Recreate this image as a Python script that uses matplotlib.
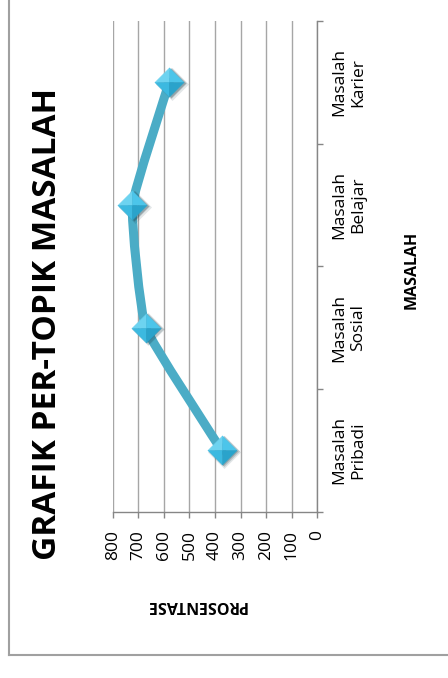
import matplotlib
matplotlib.use("Agg")
import matplotlib.pyplot as plt
import matplotlib.transforms as mtransforms
from matplotlib.path import Path
from matplotlib.patches import PathPatch
from matplotlib.lines import Line2D
import numpy as np

plt.rcParams['font.family'] = ['Open Sans', 'DejaVu Sans']

# Chart data
categories = ["Masalah\nPribadi", "Masalah\nSosial", "Masalah\nBelajar", "Masalah\nKarier"]
values = [374, 671, 723, 579]
value_ticks = [0, 100, 200, 300, 400, 500, 600, 700, 800]
title = "GRAFIK PER-TOPIK MASALAH"
value_label = "PROSENTASE"
category_label = "MASALAH"

W, H = 448, 678
fig = plt.figure(figsize=(W / 100, H / 100), dpi=100)
fig.patch.set_facecolor("white")

# Plot area (chart is laid out sideways: values run right-to-left, categories bottom-to-top)
left_px, right_px, top_px, bottom_px = 112.7, 317.3, 21.0, 511.7
ax = fig.add_axes([left_px / W, 1 - bottom_px / H,
                   (right_px - left_px) / W, (bottom_px - top_px) / H])
ax.set_xlim(max(value_ticks), 0)
ax.set_ylim(0, len(categories))

grid_col = "#a6a6a6"
axis_col = "#868686"
ax.set_xticks(value_ticks)
ax.set_xticklabels([str(v) for v in value_ticks], rotation=90, fontsize=12.5)
ax.xaxis.grid(True, color=grid_col, lw=1.0)
ax.set_axisbelow(True)
ax.tick_params(axis="x", direction="out", length=4, width=1, color=axis_col, pad=9)
for lab in ax.get_xticklabels():
    lab.set_va("top")

# Category axis on the right side
ax.yaxis.tick_right()
ax.set_yticks(np.arange(len(categories) + 1))
ax.set_yticklabels([])
ax.set_yticks(np.arange(len(categories)) + 0.5, minor=True)
ax.set_yticklabels(categories, minor=True, rotation=90, fontsize=12.5,
                   ha="left", va="center", linespacing=1.25, multialignment="center")
ax.tick_params(axis="y", which="major", direction="out", length=4, width=1, color=axis_col)
ax.tick_params(axis="y", which="minor", length=0, pad=10)

for s in ["top", "left"]:
    ax.spines[s].set_visible(False)
for s in ["bottom", "right"]:
    ax.spines[s].set_color(axis_col)
    ax.spines[s].set_linewidth(1.0)

# Gently smoothed series line (Bezier through the points)
ys = np.arange(len(values)) + 0.5
pts = np.column_stack([values, ys]).astype(float)
ext = np.vstack([pts[0], pts, pts[-1]])
tension = 0.06
verts = [tuple(pts[0])]
codes = [Path.MOVETO]
for i in range(len(pts) - 1):
    p0, p1, p2, p3 = ext[i], ext[i + 1], ext[i + 2], ext[i + 3]
    c1 = p1 + (p2 - p0) * tension
    c2 = p2 - (p3 - p1) * tension
    verts += [tuple(c1), tuple(c2), tuple(p2)]
    codes += [Path.CURVE4] * 3
ax.add_patch(PathPatch(Path(verts, codes), facecolor="none", edgecolor="#4bacc6",
                       lw=6.5, capstyle="round", joinstyle="round", zorder=3))

# Diamond markers with a soft shadow and bevelled facets
ms = 21
diamond = [(0, 1), (1, 0), (0, -1), (-1, 0), (0, 1)]
for dx, dy, a, grow in [(2.5, -1.5, 0.12, 4), (2.0, -1.0, 0.18, 2), (1.5, -0.5, 0.25, 0)]:
    tr = mtransforms.offset_copy(ax.transData, fig=fig, x=dx, y=dy, units="dots")
    ax.plot(values, ys, linestyle="none", marker=diamond, ms=ms + grow * 0.7,
            mfc="#1a3a45", mec="none", alpha=a, transform=tr, zorder=4)
facets = [
    ([(0, 0), (-1, 0), (0, 1), (0, 0)], "#6dd3f0"),
    ([(0, 0), (0, 1), (1, 0), (0, 0)], "#4cc5ea"),
    ([(0, 0), (-1, 0), (0, -1), (0, 0)], "#3cb9e0"),
    ([(0, 0), (0, -1), (1, 0), (0, 0)], "#2aa3cb"),
]
for fv, col in facets:
    ax.plot(values, ys, linestyle="none", marker=fv, ms=ms, mfc=col,
            mec=col, mew=0.3, zorder=5)

# Titles and axis names
fig.text(48 / W, 1 - 323.5 / H, title, rotation=90, ha="center", va="center",
         fontsize=24, fontweight="bold")
fig.text(196 / W, 1 - 605 / H, value_label, rotation=180, ha="center", va="center",
         fontsize=11.5, fontweight="bold")
fig.text(412 / W, 1 - 270 / H, category_label, rotation=90, ha="center", va="center",
         fontsize=11.5, fontweight="bold")

# Chart frame
frame_col = "#a0a0a0"
fig.add_artist(Line2D([8.5 / W, 8.5 / W], [1.0, 1 - 655 / H], transform=fig.transFigure,
                      color=frame_col, lw=1.5))
fig.add_artist(Line2D([8.5 / W, 1.0], [1 - 655 / H, 1 - 655 / H], transform=fig.transFigure,
                      color=frame_col, lw=1.5))

fig.savefig("out.png", dpi=100, facecolor="white")
